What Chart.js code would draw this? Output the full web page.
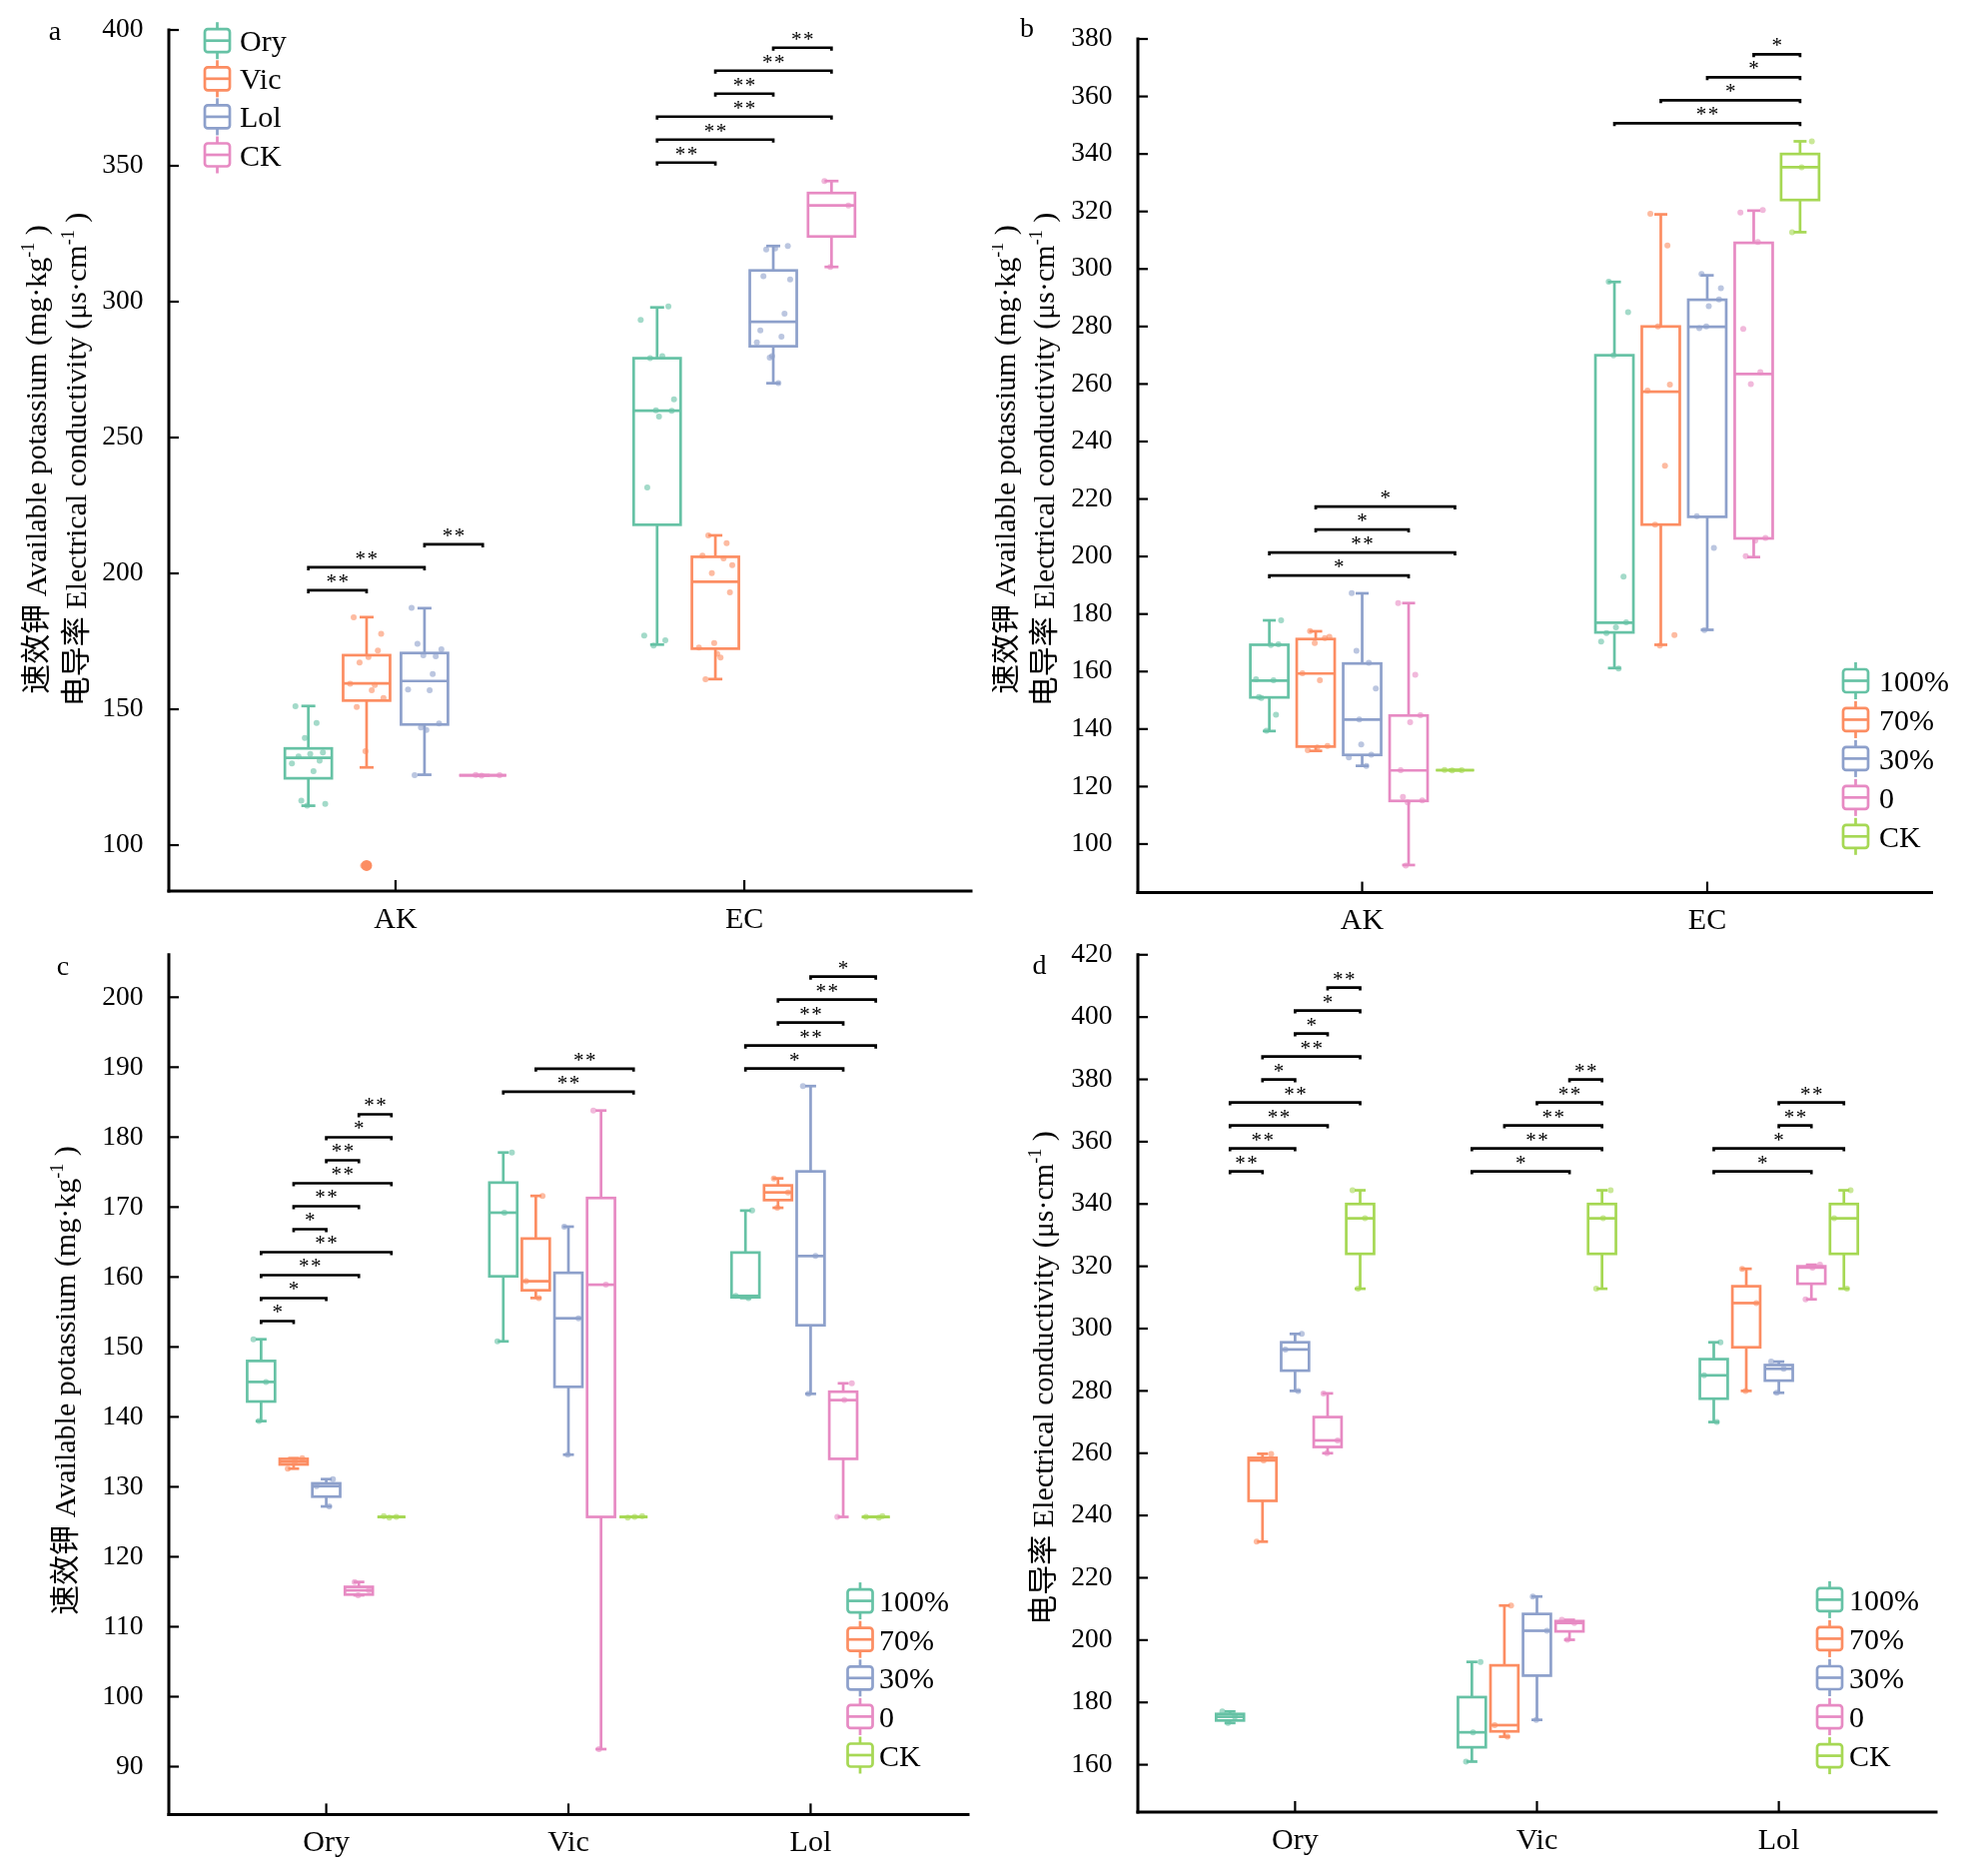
<!DOCTYPE html>
<html><head><meta charset="utf-8">
<script src="https://cdn.jsdelivr.net/npm/chart.js@4.4.1/dist/chart.umd.min.js"></script>
<style>
html,body{margin:0;padding:0;background:#fff;}
#wrap{position:relative;width:1986px;height:1878px;overflow:hidden;background:#fff;}
canvas{position:absolute;}
</style></head><body><div id="wrap">
<canvas id="ca" width="993" height="939" style="left:0px;top:0px;width:993px;height:939px"></canvas>
<canvas id="cb" width="993" height="939" style="left:993px;top:0px;width:993px;height:939px"></canvas>
<canvas id="cc" width="993" height="939" style="left:0px;top:939px;width:993px;height:939px"></canvas>
<canvas id="cd" width="993" height="939" style="left:993px;top:939px;width:993px;height:939px"></canvas>
</div>
<script>
// ---------------- DATA ----------------
const indexCats = ['AK','EC'];
const speciesCats = ['Ory','Vic','Lol'];
const groupNames = ['Ory','Vic','Lol','CK'];
const levelNames = ['100%','70%','30%','0','CK'];

const yTicksA = [100,150,200,250,300,350,400];
const yTicksB = [100,120,140,160,180,200,220,240,260,280,300,320,340,360,380];
const yTicksC = [90,100,110,120,130,140,150,160,170,180,190,200];
const yTicksD = [160,180,200,220,240,260,280,300,320,340,360,380,400,420];

// replicates (levels 100%, 70%, 30%, 0)
const akOry = [[151.1,145.0,139.4],[134.1,133.6,132.6],[131.1,130.1,127.2],[116.4,115.2,114.5]];
const akVic = [[177.8,169.2,150.8],[171.6,159.4,157.0],[167.2,154.1,134.6],[183.8,158.9,92.5]];
const akLol = [[169.5,157.3,157.0],[174.1,172.1,169.9],[187.3,163.0,143.3],[144.8,142.4,125.7]];
const akCK  = [125.8,125.7,125.6];
const ecOry = [[177.1,175.4,173.4],[259.8,257.7,231.6],[298.3,293.3,280.0],[279.2,264.1,260.0]];
const ecVic = [[193.0,170.4,161.0],[211.1,172.7,169.0],[214.0,203.0,174.4],[206.5,205.5,200.1]];
const ecLol = [[295.6,285.0,270.0],[319.2,308.2,280.0],[289.4,287.1,279.4],[320.5,319.6,309.4]];
const ecCK  = [344.4,335.4,312.8];

// box statistics [lower whisker, Q1, median, Q3, upper whisker]
const aAKbox = [[114.5,124.6,132.1,135.6,151.2],[128.6,153.2,159.5,169.9,183.9],[125.9,144.4,160.4,170.7,187.2],[125.7,125.7,125.7,125.7,125.7]];
const aECbox = [[173.8,217.9,259.9,279.2,297.9],[161.1,172.3,196.9,206.1,214.0],[270.0,283.6,292.6,311.5,320.5],[312.8,324.0,335.4,340.0,344.4]];
const aAKoutliers = [[],[92.5],[],[]];
const bAKbox = [[139.3,151.0,156.8,169.3,177.8],[132.4,133.9,159.3,171.3,174.0],[127.2,131.0,143.3,162.8,187.2],[92.7,115.0,125.6,144.7,183.8],[125.7,125.7,125.7,125.7,125.7]];
const bECbox = [[161.2,173.6,177.0,270.0,295.5],[169.3,211.1,257.3,280.0,319.0],[174.5,213.8,279.9,289.3,297.8],[199.8,206.3,263.5,309.1,320.3],[312.8,324.0,335.4,340.0,344.4]];
const cOryBox = [[139.4,142.2,145.0,148.0,151.1],[132.6,133.2,133.6,134.0,134.1],[127.2,128.6,130.1,130.5,131.1],[114.5,114.6,115.2,115.7,116.4],[125.7,125.7,125.7,125.7,125.7]];
const cVicBox = [[150.8,160.1,169.2,173.5,177.8],[157.0,158.1,159.4,165.5,171.6],[134.6,144.3,154.1,160.6,167.2],[92.5,125.7,158.9,171.3,183.8],[125.7,125.7,125.7,125.7,125.7]];
const cLolBox = [[157.0,157.1,157.3,163.5,169.5],[169.9,171.0,172.1,173.1,174.1],[143.3,153.1,163.0,175.1,187.3],[125.7,134.0,142.4,143.6,144.8],[125.7,125.7,125.7,125.7,125.7]];
const dOryBox = [[173.4,174.2,175.4,176.3,177.1],[231.6,244.7,257.7,258.5,259.8],[280.0,286.5,293.3,295.6,298.3],[260.0,262.0,264.1,271.6,279.2],[312.8,324.0,335.4,340.0,344.4]];
const dVicBox = [[161.0,165.6,170.4,181.7,193.0],[169.0,170.7,172.7,191.9,211.1],[174.4,188.6,203.0,208.4,214.0],[200.1,202.8,205.5,206.1,206.5],[312.8,324.0,335.4,340.0,344.4]];
const dLolBox = [[270.0,277.5,285.0,290.2,295.6],[280.0,294.0,308.2,313.6,319.2],[279.4,283.3,287.1,288.3,289.4],[309.4,314.4,319.6,320.0,320.5],[312.8,324.0,335.4,340.0,344.4]];

// significance comparisons [box i, box j, label], stacked bottom-up; base = lowest bracket value
const aSigAK = [[0,1,'**'],[0,2,'**'],[2,3,'**']];           const aSigAKbase = 193.8;
const aSigEC = [[0,1,'**'],[0,2,'**'],[0,3,'**'],[1,2,'**'],[1,3,'**'],[2,3,'**']]; const aSigECbase = 351.2;
const bSigAK = [[0,3,'*'],[0,4,'**'],[1,3,'*'],[1,4,'*']];    const bSigAKbase = 193.4;
const bSigEC = [[0,4,'**'],[1,4,'*'],[2,4,'*'],[3,4,'*']];    const bSigECbase = 350.7;
const cSigOry = [[0,1,'*'],[0,2,'*'],[0,3,'**'],[0,4,'**'],[1,2,'*'],[1,3,'**'],[1,4,'**'],[2,3,'**'],[2,4,'*'],[3,4,'**']]; const cSigOryBase = 153.7;
const cSigVic = [[0,4,'**'],[1,4,'**']];                      const cSigVicBase = 186.5;
const cSigLol = [[0,3,'*'],[0,4,'**'],[1,3,'**'],[1,4,'**'],[2,4,'*']]; const cSigLolBase = 189.8;
const dSigOry = [[0,1,'**'],[0,2,'**'],[0,3,'**'],[0,4,'**'],[1,2,'*'],[1,4,'**'],[2,3,'*'],[2,4,'*'],[3,4,'**']]; const dSigOryBase = 350.5;
const dSigVic = [[0,3,'*'],[0,4,'**'],[1,4,'**'],[2,4,'**'],[3,4,'**']]; const dSigVicBase = 350.5;
const dSigLol = [[0,3,'*'],[0,4,'*'],[2,3,'**'],[2,4,'**']];  const dSigLolBase = 350.5;

// ---------------- STYLE ----------------
const SERIF = 'Liberation Serif';
const CJK = 'Noto Sans CJK SC';
const C_GREEN='#66C2A5', C_ORANGE='#FC8D62', C_BLUE='#8DA0CB', C_PINK='#E78AC3', C_LIME='#A6D854';
const speciesColors = [C_GREEN, C_ORANGE, C_BLUE, C_PINK];
const levelColors = [C_GREEN, C_ORANGE, C_BLUE, C_PINK, C_LIME];
const JIT = [-0.55,0.35,-0.15,0.62,0.08,-0.42,0.48,-0.7,0.22,-0.3,0.72,-0.05];
const off4 = [-0.25,-0.083,0.083,0.25];
const off5 = [-0.269,-0.1346,0,0.1346,0.269];
const LW = 2.7;

function rgba(h,a){const n=parseInt(h.slice(1),16);return `rgba(${n>>16&255},${n>>8&255},${n&255},${a})`;}
const flat = a => [].concat(...a);

function line(ctx,x1,y1,x2,y2){ctx.beginPath();ctx.moveTo(x1,y1);ctx.lineTo(x2,y2);ctx.stroke();}

function drawRich(ctx,cx,cy,segs){
  ctx.save(); ctx.translate(cx,cy); ctx.rotate(-Math.PI/2);
  ctx.textBaseline='alphabetic'; ctx.textAlign='left'; ctx.fillStyle='#000';
  let tot=0; segs.forEach(s=>{ctx.font=s.f; s.w=ctx.measureText(s.t).width; tot+=s.w;});
  let x=-tot/2;
  segs.forEach(s=>{ctx.font=s.f; ctx.fillText(s.t,x,10+(s.dy||0)); x+=s.w;});
  ctx.restore();
}
function titleSegs(cn, en, unit){
  return [{t:cn,f:`30px "${CJK}"`},{t:' '+en+' ('+unit,f:`30px "${SERIF}"`},{t:'-1',f:`18px "${SERIF}"`,dy:-12},{t:' )',f:`30px "${SERIF}"`}];
}
const TITLE_AK = titleSegs('速效钾','Available potassium','mg·kg');
const TITLE_EC = titleSegs('电导率','Electrical conductivity','μs·cm');

function drawStars(ctx,cx,cy,label){
  ctx.font=`21px "${SERIF}"`; ctx.textAlign='center'; ctx.textBaseline='alphabetic'; ctx.fillStyle='#000';
  const n=label.length, sp=12;
  for(let i=0;i<n;i++){ctx.fillText('*', cx+(i-(n-1)/2)*sp, cy+9.5);}
}

function makePanel(id, P){
  const boxPlugin = {
    id:'boxes_'+id,
    beforeDatasetsDraw(chart){
      const {ctx, scales:{x,y}} = chart;
      ctx.save(); ctx.lineWidth=LW; ctx.lineJoin='miter';
      P.boxes.forEach(b=>{
        const xc=x.getPixelForValue(b.cx);
        const half=(x.getPixelForValue(b.cx+P.bw/2)-x.getPixelForValue(b.cx-P.bw/2))/2;
        const [lo,q1,md,q3,hi]=b.st.map(v=>y.getPixelForValue(v));
        ctx.strokeStyle=b.color;
        line(ctx,xc,q3,xc,hi); line(ctx,xc,q1,xc,lo);
        line(ctx,xc-P.cap/2,hi,xc+P.cap/2,hi); line(ctx,xc-P.cap/2,lo,xc+P.cap/2,lo);
        ctx.strokeRect(xc-half,q3,2*half,Math.max(q1-q3,0));
        line(ctx,xc-half,md,xc+half,md);
      });
      ctx.restore();
    },
    afterDatasetsDraw(chart){
      const {ctx, chartArea:ca, scales:{x,y}} = chart;
      ctx.save();
      // outliers
      P.boxes.forEach(b=>{ (b.out||[]).forEach(v=>{ ctx.fillStyle=b.color; ctx.beginPath(); ctx.arc(x.getPixelForValue(b.cx), y.getPixelForValue(v), 5.5, 0, Math.PI*2); ctx.fill(); }); });
      // axes
      ctx.strokeStyle='#000'; ctx.lineWidth=3; ctx.lineCap='square';
      line(ctx,ca.left,ca.top,ca.left,ca.bottom); line(ctx,ca.left,ca.bottom,ca.right,ca.bottom);
      ctx.lineCap='butt'; ctx.lineWidth=2.2;
      y.ticks.forEach(t=>{const py=y.getPixelForValue(t.value); line(ctx,ca.left,py,ca.left+10,py);});
      x.ticks.forEach(t=>{const px=x.getPixelForValue(t.value); line(ctx,px,ca.bottom,px,ca.bottom-11);});
      // brackets
      ctx.lineWidth=LW; ctx.strokeStyle='#000';
      P.sigs.forEach(g=>{
        const base=y.getPixelForValue(g.base);
        g.items.forEach((it,k)=>{
          const x1=x.getPixelForValue(g.g+P.offs[it[0]]), x2=x.getPixelForValue(g.g+P.offs[it[1]]);
          const py=base-k*23;
          ctx.beginPath(); ctx.moveTo(x1,py+3); ctx.lineTo(x1,py); ctx.lineTo(x2,py); ctx.lineTo(x2,py+3); ctx.stroke();
          drawStars(ctx,(x1+x2)/2,py-11.5,it[2]);
        });
      });
      // legend
      P.legend.names.forEach((nm,i)=>{
        const cy=P.legend.y0+i*P.legend.step, cx=P.legend.ix, col=P.legend.colors[i];
        ctx.strokeStyle=col; ctx.lineWidth=LW;
        line(ctx,cx,cy-18.5,cx,cy-11.5); line(ctx,cx,cy+11.5,cx,cy+18.5);
        ctx.beginPath(); ctx.roundRect(cx-12.5,cy-11.5,25,23,3); ctx.stroke();
        line(ctx,cx-12.5,cy,cx+12.5,cy);
        ctx.fillStyle='#000'; ctx.font=`30px "${SERIF}"`; ctx.textAlign='left'; ctx.textBaseline='alphabetic';
        ctx.fillText(nm,P.legend.tx,cy+10.5);
      });
      // titles
      P.titles.forEach(t=>drawRich(ctx,t.x,t.y,t.segs));
      // panel label
      ctx.fillStyle='#000'; ctx.font=`28px "${SERIF}"`; ctx.textAlign='center'; ctx.textBaseline='alphabetic';
      ctx.fillText(P.label.t,P.label.x,P.label.y+6.5);
      ctx.restore();
    }
  };
  const datasets = P.points.map((p,bi)=>({
    data: p.vals.map((v,i)=>({x:p.cx+JIT[(i+bi*3)%JIT.length]*P.bw/2, y:v})),
    backgroundColor: rgba(p.color,0.6), borderWidth:0, pointRadius:3, pointHoverRadius:3
  }));
  return new Chart(document.getElementById(id), {
    type:'scatter',
    data:{datasets},
    options:{
      responsive:false, animation:false, devicePixelRatio:1,
      layout:{padding:{top:P.padTop,right:P.padRight,left:0,bottom:0}},
      plugins:{legend:{display:false},tooltip:{enabled:false}},
      scales:{
        x:{type:'linear',min:P.xMin,max:P.xMax,grid:{display:false},border:{display:false},
          ticks:{color:'#000',font:{family:SERIF,size:30},padding:3,maxRotation:0,autoSkip:false,
            callback:v=>P.cats[Math.round(v)-1]},
          afterBuildTicks:s=>{s.ticks=P.cats.map((c,i)=>({value:i+1}));},
          afterFit:s=>{s.height=P.xH; s.paddingLeft=0; s.paddingRight=0;}},
        y:{type:'linear',min:P.yMin,max:P.yMax,grid:{display:false},border:{display:false},
          ticks:{color:'#000',font:{family:SERIF,size:27.5},padding:17.5,autoSkip:false},
          afterBuildTicks:s=>{s.ticks=P.yTicks.map(v=>({value:v}));},
          afterFit:s=>{s.width=P.yW; s.paddingTop=0; s.paddingBottom=0;}}
      }
    },
    plugins:[boxPlugin]
  });
}

function buildBoxes(groups, offs, statsByGroup, colors, outByGroup){
  const out=[];
  statsByGroup.forEach((arr,gi)=>arr.forEach((st,k)=>out.push({cx:groups[gi]+offs[k], st, color:colors[k], out: outByGroup&&outByGroup[gi]?outByGroup[gi][k]:[]})));
  return out;
}
function buildPoints(groups, offs, valsByGroup, colors){
  const out=[];
  valsByGroup.forEach((arr,gi)=>arr.forEach((vals,k)=>out.push({cx:groups[gi]+offs[k], vals, color:colors[k]})));
  return out;
}

// Panel a
makePanel('ca',{
  cats:indexCats, xMin:0.35, xMax:2.65, yMin:83.1, yMax:400, yTicks:yTicksA,
  yW:169, xH:47, padTop:30, padRight:21, bw:0.1346, cap:14, offs:off4,
  boxes: buildBoxes([1,2],off4,[aAKbox,aECbox],speciesColors,[aAKoutliers,null]),
  points: buildPoints([1,2],off4,[[flat(akOry),flat(akVic),flat(akLol),akCK],[flat(ecOry),flat(ecVic),flat(ecLol),ecCK]],speciesColors),
  sigs:[{g:1,base:aSigAKbase,items:aSigAK},{g:2,base:aSigECbase,items:aSigEC}],
  legend:{names:groupNames,colors:speciesColors,ix:217.5,tx:240,y0:40.7,step:38.1},
  titles:[{x:36,y:460,segs:TITLE_AK},{x:76,y:460,segs:TITLE_EC}],
  label:{t:'a',x:55,y:33}
});
// Panel b
const lvAK = [0,1,2,3].map(k=>[].concat(akOry[k],akVic[k],akLol[k]));
const lvEC = [0,1,2,3].map(k=>[].concat(ecOry[k],ecVic[k],ecLol[k]));
makePanel('cb',{
  cats:indexCats, xMin:0.35, xMax:2.65, yMin:83.1, yMax:380, yTicks:yTicksB,
  yW:146, xH:45.4, padTop:39, padRight:52.5, bw:0.11, cap:13, offs:off5,
  boxes: buildBoxes([1,2],off5,[bAKbox,bECbox],levelColors),
  points: buildPoints([1,2],off5,[lvAK.concat([akCK]),lvEC.concat([ecCK])],levelColors),
  sigs:[{g:1,base:bSigAKbase,items:bSigAK},{g:2,base:bSigECbase,items:bSigEC}],
  legend:{names:levelNames,colors:levelColors,ix:864.5,tx:888,y0:681.5,step:38.95},
  titles:[{x:12.7,y:460,segs:TITLE_AK},{x:52,y:460,segs:TITLE_EC}],
  label:{t:'b',x:35,y:30}
});
// Panel c
makePanel('cc',{
  cats:speciesCats, xMin:0.35, xMax:3.65, yMin:83.16, yMax:206.07, yTicks:yTicksC,
  yW:169, xH:61.6, padTop:16.8, padRight:24, bw:0.115, cap:11, offs:off5,
  boxes: buildBoxes([1,2,3],off5,[cOryBox,cVicBox,cLolBox],levelColors),
  points: buildPoints([1,2,3],off5,[akOry.concat([akCK]),akVic.concat([akCK]),akLol.concat([akCK])],levelColors),
  sigs:[{g:1,base:cSigOryBase,items:cSigOry},{g:2,base:cSigVicBase,items:cSigVic},{g:3,base:cSigLolBase,items:cSigLol}],
  legend:{names:levelNames,colors:levelColors,ix:861,tx:880,y0:663.6,step:38.6},
  titles:[{x:65,y:443,segs:TITLE_AK}],
  label:{t:'c',x:63,y:30}
});
// Panel d
makePanel('cd',{
  cats:speciesCats, xMin:0.35, xMax:3.65, yMin:144.8, yMax:420, yTicks:yTicksD,
  yW:146, xH:64, padTop:16.8, padRight:48, bw:0.115, cap:11, offs:off5,
  boxes: buildBoxes([1,2,3],off5,[dOryBox,dVicBox,dLolBox],levelColors),
  points: buildPoints([1,2,3],off5,[ecOry.concat([ecCK]),ecVic.concat([ecCK]),ecLol.concat([ecCK])],levelColors),
  sigs:[{g:1,base:dSigOryBase,items:dSigOry},{g:2,base:dSigVicBase,items:dSigVic},{g:3,base:dSigLolBase,items:dSigLol}],
  legend:{names:levelNames,colors:levelColors,ix:838.5,tx:858,y0:662.4,step:39.05},
  titles:[{x:50.7,y:440.5,segs:TITLE_EC}],
  label:{t:'d',x:47.5,y:29}
});
</script></body></html>
